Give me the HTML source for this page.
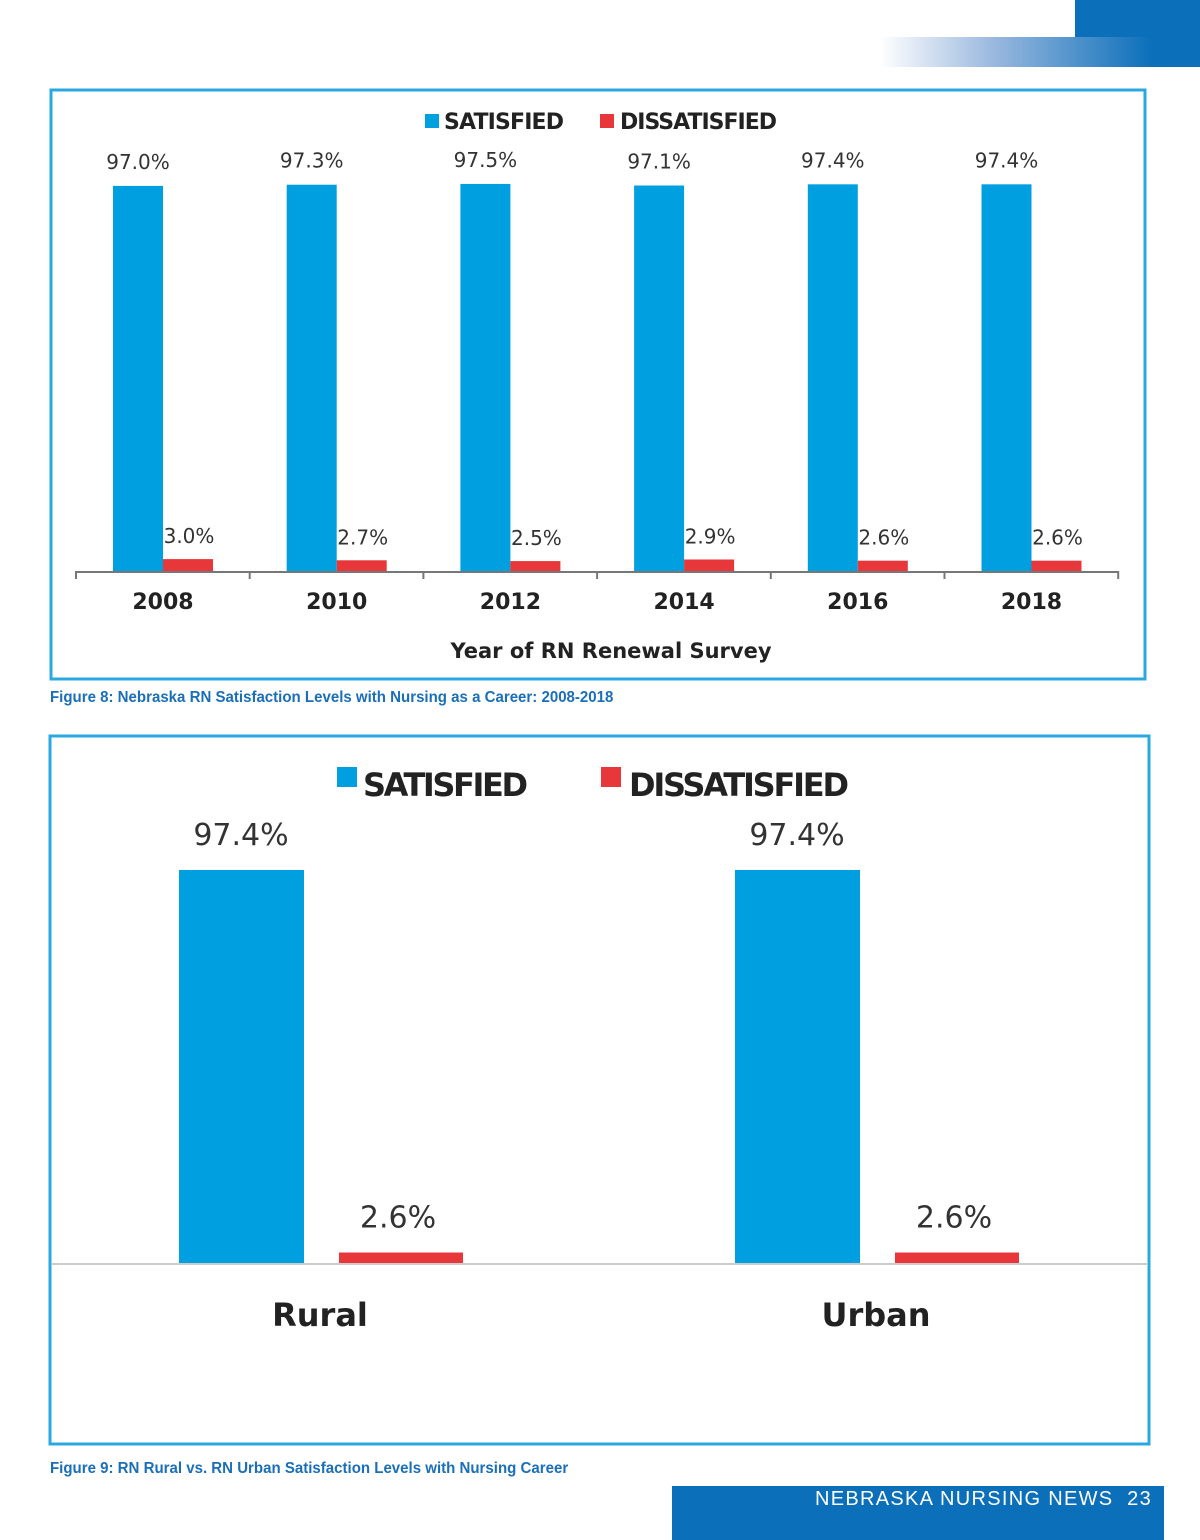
<!DOCTYPE html>
<html><head><meta charset="utf-8"><style>
body{margin:0;width:1200px;height:1540px;background:#fff;position:relative;overflow:hidden;font-family:"DejaVu Sans","Liberation Sans",sans-serif}
.cap{position:absolute;left:50px;font-family:"Liberation Sans",sans-serif;font-weight:bold;font-size:16px;color:#1a6fb8;transform:scaleX(0.94);transform-origin:left;white-space:nowrap}
</style></head><body>
<div style="position:absolute;left:1075px;top:0;width:125px;height:38px;background:#0b6fba"></div>
<div style="position:absolute;left:880px;top:37px;width:320px;height:30px;background:linear-gradient(to right,#fff,#9bb9df 35%,#0b6fba 85%)"></div>

<svg style="position:absolute;left:0;top:0" width="1200" height="690" id="c1"></svg>
<div class="cap" style="top:689px">Figure 8: Nebraska RN Satisfaction Levels with Nursing as a Career: 2008-2018</div>

<svg style="position:absolute;left:0;top:0" width="1200" height="1460" id="c2"></svg>
<div class="cap" style="top:1460px">Figure 9: RN Rural vs. RN Urban Satisfaction Levels with Nursing Career</div>

<div style="position:absolute;left:672px;top:1486px;width:492px;height:54px;background:#0b6fba;color:#fff;font-family:'Liberation Sans',sans-serif;font-size:20px;letter-spacing:1.3px"><span style="position:absolute;right:12px;top:2px">NEBRASKA NURSING NEWS&nbsp;&nbsp;23</span></div>

<script>
const years=["2008","2010","2012","2014","2016","2018"];
const satisfied=[97.0,97.3,97.5,97.1,97.4,97.4];
const dissatisfied=[3.0,2.7,2.5,2.9,2.6,2.6];
const locations=["Rural","Urban"];
const satisfied2=[97.4,97.4];
const dissatisfied2=[2.6,2.6];
const NS="http://www.w3.org/2000/svg";
function mk(svg,tag,attrs,text){const e=document.createElementNS(NS,tag);for(const k in attrs)e.setAttribute(k,attrs[k]);if(text!==undefined)e.textContent=text;svg.appendChild(e);return e;}
const BLUE="#009fdf",RED="#e8373a";
// chart 1
(function(){
const s=document.getElementById('c1');
let e=mk(s,'rect',{x:51,y:90,width:1094,height:589,fill:'none',stroke:'#2aa9e0','stroke-width':3});

const base=571,k=3.97,x0=76,gw=173.7;
const y=v=>base-v*k;
e=mk(s,'line',{x1:x0,x2:x0+gw*6,y1:base+1,y2:base+1,stroke:'#777','stroke-width':2});

for(let i=0;i<=6;i++){e=mk(s,'line',{x1:x0+gw*i,x2:x0+gw*i,y1:base,y2:base+8,stroke:'#777','stroke-width':2});
}
years.forEach((yr,i)=>{const g=x0+gw*i;
e=mk(s,'rect',{x:g+37,y:y(satisfied[i]),width:50,height:base-y(satisfied[i]),fill:BLUE});

e=mk(s,'rect',{x:g+87,y:y(dissatisfied[i]),width:50,height:base-y(dissatisfied[i]),fill:RED});

e=mk(s,'text',{x:g+62,y:y(satisfied[i])-17,'text-anchor':'middle','font-size':20,fill:'#333'},satisfied[i].toFixed(1)+'%');

e=mk(s,'text',{x:g+113,y:y(dissatisfied[i])-16,'text-anchor':'middle','font-size':20,fill:'#333'},dissatisfied[i].toFixed(1)+'%');

e=mk(s,'text',{x:g+87,y:609,'text-anchor':'middle','font-size':22,'font-weight':'bold',fill:'#222'},yr);

});
e=mk(s,'text',{x:611,y:658,'text-anchor':'middle','font-size':21,'font-weight':'bold',fill:'#222'},'Year of RN Renewal Survey');

e=mk(s,'rect',{x:425,y:114,width:14,height:14,fill:BLUE});
e=mk(s,'text',{x:444,y:129,'font-size':22,'font-weight':'bold',fill:'#222',textLength:120},'SATISFIED');
e=mk(s,'rect',{x:600,y:114,width:14,height:14,fill:RED});
e=mk(s,'text',{x:620,y:129,'font-size':22,'font-weight':'bold',fill:'#222',textLength:157},'DISSATISFIED');
})();
// chart 2
(function(){
const s=document.getElementById('c2');
let e=mk(s,'rect',{x:50,y:736,width:1099,height:708,fill:'none',stroke:'#2aa9e0','stroke-width':3});

const base=1263,k=4.035,x0=60,gw=556;
const y=v=>base-v*k;
e=mk(s,'line',{x1:52,x2:1148,y1:base+1,y2:base+1,stroke:'#ccc','stroke-width':2});

locations.forEach((c,i)=>{const g=x0+gw*i;
e=mk(s,'rect',{x:g+119,y:y(satisfied2[i]),width:125,height:base-y(satisfied2[i]),fill:BLUE});

e=mk(s,'rect',{x:g+279,y:y(dissatisfied2[i]),width:124,height:base-y(dissatisfied2[i]),fill:RED});

e=mk(s,'text',{x:g+181,y:y(satisfied2[i])-25,'text-anchor':'middle','font-size':30,fill:'#333'},satisfied2[i].toFixed(1)+'%');

e=mk(s,'text',{x:g+338,y:y(dissatisfied2[i])-25,'text-anchor':'middle','font-size':30,fill:'#333'},dissatisfied2[i].toFixed(1)+'%');

e=mk(s,'text',{x:g+260,y:1326,'text-anchor':'middle','font-size':32,'font-weight':'bold',fill:'#222'},c);

});
e=mk(s,'rect',{x:337,y:767,width:20,height:20,fill:BLUE});
e=mk(s,'text',{x:363,y:796,'font-size':32,'font-weight':'bold',fill:'#222',textLength:165},'SATISFIED');
e=mk(s,'rect',{x:601,y:767,width:20,height:20,fill:RED});
e=mk(s,'text',{x:629,y:796,'font-size':32,'font-weight':'bold',fill:'#222',textLength:220},'DISSATISFIED');
})();
</script>
</body></html>
